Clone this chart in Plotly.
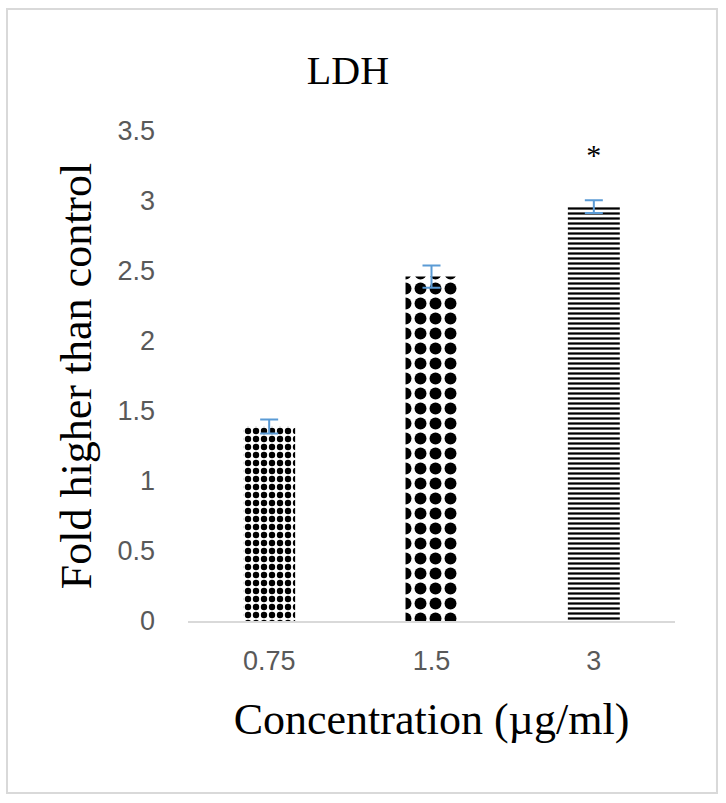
import plotly.graph_objects as go

categories = ["0.75", "1.5", "3"]
values = [1.39, 2.46, 2.96]
errors = [0.05, 0.08, 0.045]
pattern_shapes = [".", ".", "-"]
pattern_sizes = [8, 15, 5]
pattern_solidity = [0.5, 0.5, 0.45]
sig_labels = ["", "", "*"]
sig_y = [None, None, 3.31]
y_ticks = [0, 0.5, 1, 1.5, 2, 2.5, 3, 3.5]
y_tick_text = ["0", "0.5", "1", "1.5", "2", "2.5", "3", "3.5"]

fig = go.Figure()
fig.add_trace(go.Bar(
    x=categories, y=values,
    error_y=dict(type="data", array=errors, visible=True, color="#5b9bd5", thickness=2, width=9),
    marker=dict(color="white", line=dict(width=0),
                pattern=dict(shape=pattern_shapes, size=pattern_sizes, solidity=pattern_solidity,
                             fgcolor="black", bgcolor="white", fgopacity=1, fillmode="replace")),
    showlegend=False, hoverinfo="x+y",
))

sig_x = [c for c, lab in zip(categories, sig_labels) if lab]
sig_yy = [yy for lab, yy in zip(sig_labels, sig_y) if lab]
sig_t = [lab for lab in sig_labels if lab]
fig.add_trace(go.Scatter(
    x=sig_x, y=sig_yy, text=sig_t, mode="text", textposition="middle center",
    textfont=dict(family="Liberation Serif", size=30, color="black"),
    showlegend=False, hoverinfo="skip",
))

fig.add_shape(type="rect", xref="paper", yref="paper",
              x0=-0.3717, x1=1.0862, y0=-0.351, y1=1.249,
              line=dict(color="#d9d9d9", width=2), fillcolor="rgba(0,0,0,0)", layer="below")

fig.update_layout(
    width=726, height=803,
    margin=dict(l=188, r=51, t=131, b=182, autoexpand=False),
    paper_bgcolor="white", plot_bgcolor="white",
    bargap=0.68,
    title=dict(text="LDH", x=0.3285, xref="paper", xanchor="center",
               y=1 - 70 / 803, yref="container", yanchor="middle",
               font=dict(family="Liberation Serif", size=40, color="black")),
)
fig.update_xaxes(
    type="category", automargin=False,
    showline=True, linecolor="#d9d9d9", linewidth=2, showgrid=False, zeroline=False,
    ticks="", ticklabelstandoff=15,
    tickfont=dict(family="Liberation Sans", size=27, color="#595959"),
    title=dict(text="Concentration (µg/ml)", standoff=28,
               font=dict(family="Liberation Serif", size=44, color="black")),
)
fig.update_yaxes(
    range=[0, 3.5], tickvals=y_ticks, ticktext=y_tick_text, automargin=False,
    showline=False, showgrid=False, zeroline=False,
    ticks="", ticklabelstandoff=32,
    tickfont=dict(family="Liberation Sans", size=27, color="#595959"),
    title=dict(text="Fold higher than control", standoff=12,
               font=dict(family="Liberation Serif", size=44, color="black")),
)

fig.write_html("out.html", config={"displayModeBar": False},
               post_script="document.body.style.margin='0';document.body.style.overflow='hidden';")
